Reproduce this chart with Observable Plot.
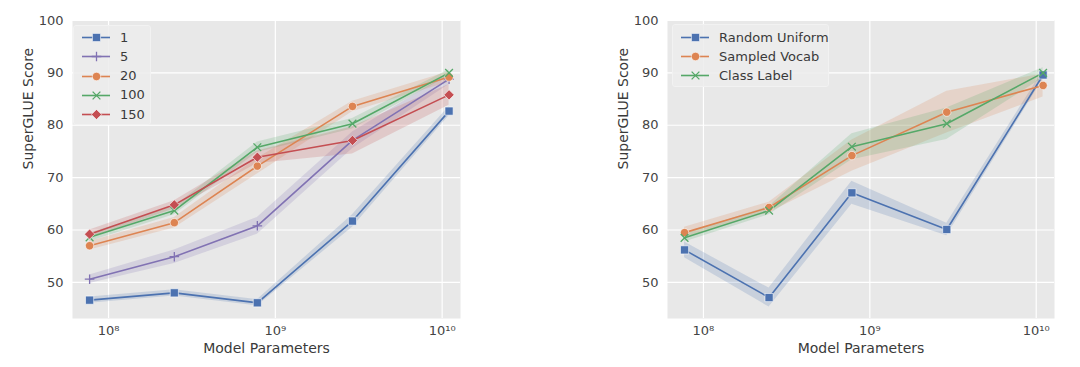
<!DOCTYPE html>
<html>
<head>
<meta charset="utf-8">
<script src="https://cdn.jsdelivr.net/npm/d3@7"></script>
<script src="https://cdn.jsdelivr.net/npm/@observablehq/plot@0.6"></script>
<style>
  html, body { margin: 0; padding: 0; background: #fff; }
  body { width: 1080px; height: 367px; position: relative; overflow: hidden; font-family: "DejaVu Sans", sans-serif; }
  .panel { position: absolute; top: 0; }
  .legend { position: absolute; background: rgba(236,236,236,0.85); border: 1px solid #f2f2f2; border-radius: 3px; box-sizing: border-box; }
  .legend .row { position: absolute; left: 0; height: 18px; display: flex; align-items: center; }
  .legend .row span { font-size: 13px; color: #3a3a3a; margin-left: 10px; white-space: nowrap; }
</style>
</head>
<body>
<div id="left" class="panel" style="left:0px"></div>
<div id="right" class="panel" style="left:595px"></div>
<script>
// ---------- data ----------
const params = [7.7e7, 2.48e8, 7.8e8, 2.9e9, 1.1e10];
const xTicks = [1e8, 1e9, 1e10];
const yTicks = [50, 60, 70, 80, 90, 100];

// left panel: number of examples
const leftNames = ["1", "5", "20", "100", "150"];
const k1   = [46.6, 48.0, 46.1, 61.7, 82.7];
const k5   = [50.6, 54.9, 60.8, 77.1, 88.8];
const k20  = [57.0, 61.4, 72.2, 83.6, 89.2];
const k100 = [58.6, 63.7, 75.8, 80.3, 90.0];
const k150 = [59.2, 64.8, 73.9, 77.1, 85.8];
const k1Err   = [0.6, 0.6, 0.6, 1.2, 0.9];
const k5Err   = [0.8, 1.3, 1.6, 1.6, 1.0];
const k20Err  = [0.8, 1.0, 1.5, 1.0, 1.0];
const k100Err = [0.8, 0.8, 1.0, 1.0, 0.6];
const k150Err = [0.8, 0.8, 1.2, 2.6, 2.0];

// right panel: prompt initialization
const rightNames = ["Random Uniform", "Sampled Vocab", "Class Label"];
const rnd = [56.2, 47.1, 67.1, 60.1, 89.6];
const voc = [59.5, 64.3, 74.2, 82.5, 87.6];
const cls = [58.5, 63.7, 75.9, 80.3, 90.0];
const rndErr = [1.5, 1.8, 2.2, 1.2, 0.8];
const vocErr = [1.0, 1.0, 3.0, 4.0, 2.2];
const clsErr = [0.8, 0.8, 2.5, 3.0, 1.0];

// styles
const C = {blue: "#4C72B0", orange: "#DD8452", green: "#55A868", red: "#C44E52", purple: "#8172B3"};
const leftStyles = [
  {color: C.blue, symbol: "square", filled: true},
  {color: C.purple, symbol: "plus", filled: false},
  {color: C.orange, symbol: "circle", filled: true},
  {color: C.green, symbol: "times", filled: false},
  {color: C.red, symbol: "diamond2", filled: true}
];
const rightStyles = [
  {color: C.blue, symbol: "square", filled: true},
  {color: C.orange, symbol: "circle", filled: true},
  {color: C.green, symbol: "times", filled: false}
];

const sup = {"8": "⁸", "9": "⁹", "1": "¹", "0": "⁰"};
const fmtPow = d => "10" + String(Math.round(Math.log10(d))).split("").map(c => sup[c]).join("");

function series(name, vals, errs) {
  return vals.map((v, i) => ({name, x: params[i], y: v, lo: v - errs[i], hi: v + errs[i]}));
}

function dotMark(data, s, opts) {
  if (s.filled) {
    return Plot.dot(data, {...opts, symbol: () => s.symbol, fill: s.color, stroke: "#fff", strokeWidth: 0.6,
      r: s.symbol === "circle" ? 4.2 : 4.6});
  }
  return Plot.dot(data, {...opts, symbol: () => s.symbol, fill: "none", stroke: s.color,
    strokeWidth: 1.3, r: s.symbol === "plus" ? 3.2 : 3.6});
}

function panel(el, names, valsList, errList, styles, opts) {
  const marks = [
    Plot.frame({fill: "#e8e8e8", stroke: null}),
    Plot.gridX(xTicks, {stroke: "#fff", strokeOpacity: 1, strokeWidth: 1.2}),
    Plot.gridY(yTicks, {stroke: "#fff", strokeOpacity: 1, strokeWidth: 1.2}),
    Plot.axisX(xTicks, {tickSize: 0, tickPadding: 7, tickFormat: fmtPow, fontSize: 13, fill: "#444", label: null}),
    Plot.axisY(yTicks, {tickSize: 0, tickPadding: 9, fontSize: 13, fill: "#444", label: null}),
    Plot.text(["Model Parameters"], {frameAnchor: "bottom", dy: 30, lineAnchor: "middle", fontSize: 14, fill: "#3a3a3a"}),
    Plot.text(["SuperGLUE Score"], {frameAnchor: "left", dx: -44, rotate: -90, fontSize: 14, fill: "#3a3a3a"})
  ];
  const all = names.map((n, i) => series(n, valsList[i], errList[i]));
  all.forEach((d, i) => {
    marks.push(Plot.areaY(d, {x: "x", y1: "lo", y2: "hi", fill: styles[i].color, fillOpacity: 0.2, curve: "linear"}));
  });
  all.forEach((d, i) => {
    marks.push(Plot.line(d, {x: "x", y: "y", stroke: styles[i].color, strokeWidth: 1.6}));
  });
  all.forEach((d, i) => {
    marks.push(dotMark(d, styles[i], {x: "x", y: "y"}));
  });
  const chart = Plot.plot({
    width: opts.width, height: 367,
    marginLeft: 72, marginRight: opts.width - 72 - opts.plotW, marginTop: 20, marginBottom: 49,
    style: {fontFamily: "DejaVu Sans, sans-serif", fontSize: "13px", color: "#444", background: "transparent", overflow: "visible"},
    x: {type: "log", domain: [10 ** 7.784, 10 ** 10.11]},
    y: {domain: [43.1, 100]},
    symbol: {type: "identity"},
    marks
  });
  el.appendChild(chart);

  // legend
  const lg = document.createElement("div");
  lg.className = "legend";
  Object.assign(lg.style, {left: opts.lg.left + "px", top: opts.lg.top + "px", width: opts.lg.w + "px", height: opts.lg.h + "px"});
  names.forEach((n, i) => {
    const s = styles[i];
    const row = document.createElement("div");
    row.className = "row";
    row.style.top = (opts.lg.row0 + i * opts.lg.step - 9) + "px";
    row.style.left = "8px";
    const sw = Plot.plot({
      width: 28, height: 18, margin: 0, axis: null,
      x: {domain: [0, 1]}, y: {domain: [0, 1]},
      symbol: {type: "identity"},
      style: {background: "transparent", overflow: "visible"},
      marks: [
        Plot.ruleY([0.5], {x1: 0, x2: 1, stroke: s.color, strokeWidth: 1.6}),
        dotMark([0.5], s, {x: 0.5, y: 0.5})
      ]
    });
    row.appendChild(sw);
    const t = document.createElement("span");
    t.textContent = n;
    row.appendChild(t);
    lg.appendChild(row);
  });
  el.appendChild(lg);
}

panel(document.getElementById("left"), leftNames, [k1, k5, k20, k100, k150],
  [k1Err, k5Err, k20Err, k100Err, k150Err], leftStyles,
  {width: 480, plotW: 388, lg: {left: 73, top: 25, w: 78, h: 100, row0: 11, step: 19.3}});

panel(document.getElementById("right"), rightNames, [rnd, voc, cls],
  [rndErr, vocErr, clsErr], rightStyles,
  {width: 480, plotW: 387, lg: {left: 77, top: 24, w: 157, h: 63, row0: 12, step: 19}});
</script>
</body>
</html>
